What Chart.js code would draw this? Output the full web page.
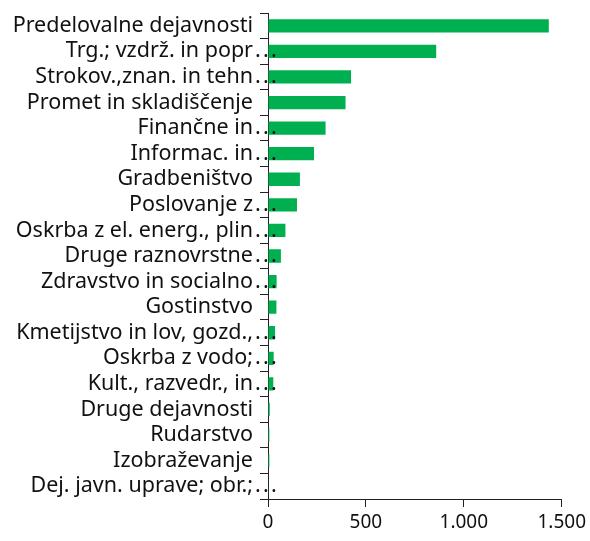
<!DOCTYPE html>
<html>
<head>
<meta charset="utf-8">
<script src="https://cdn.jsdelivr.net/npm/chart.js@4"></script>
<style>
  html, body { margin: 0; padding: 0; background: #fff; }
  #wrap { width: 590px; height: 541px; }
</style>
</head>
<body>
<div id="wrap"><canvas id="chart"></canvas></div>
<script>
const categories = [
  "Predelovalne dejavnosti",
  "Trg.; vzdrž. in popr…",
  "Strokov.,znan. in tehn…",
  "Promet in skladiščenje",
  "Finančne in…",
  "Informac. in…",
  "Gradbeništvo",
  "Poslovanje z…",
  "Oskrba z el. energ., plin…",
  "Druge raznovrstne…",
  "Zdravstvo in socialno…",
  "Gostinstvo",
  "Kmetijstvo in lov, gozd.,…",
  "Oskrba z vodo;…",
  "Kult., razvedr., in…",
  "Druge dejavnosti",
  "Rudarstvo",
  "Izobraževanje",
  "Dej. javn. uprave; obr.;…"
];
const values = [1434, 859, 424, 396, 294, 235, 163, 148, 89, 66, 44, 43, 36, 29, 27, 9, 7, 7, 2];
const tickValues = [0, 500, 1000, 1500];
const tickLabels = ["0", "500", "1.000", "1.500"];

const xFont = { family: "'Noto Sans', sans-serif", size: 19 };
const yFont = { family: "'Noto Sans', sans-serif", size: 21.5 };

// truncated labels: the dots hang past the label edge, over the axis
const ellipsisPlugin = {
  id: 'ellipsis',
  afterDatasetsDraw(chart) {
    const ctx = chart.ctx;
    const y = chart.scales.y;
    ctx.save();
    ctx.font = yFont.size + 'px ' + yFont.family;
    ctx.fillStyle = '#111';
    ctx.textAlign = 'center';
    ctx.textBaseline = 'middle';
    categories.forEach((c, i) => {
      if (!c.endsWith('…')) return;
      const py = y.getPixelForTick(i);
      [-10, -2, 6].forEach(dx => ctx.fillText('.', y.right + dx, py));
    });
    ctx.restore();
  }
};

new Chart(document.getElementById('chart'), {
  type: 'bar',
  data: {
    labels: categories,
    datasets: [{
      data: values,
      backgroundColor: '#00b050',
      barPercentage: 0.52,
      categoryPercentage: 1.0
    }]
  },
  options: {
    indexAxis: 'y',
    responsive: true,
    maintainAspectRatio: false,
    animation: false,
    layout: { padding: { top: 13, right: 28, bottom: 0, left: 0 } },
    plugins: { legend: { display: false }, tooltip: { enabled: false } },
    scales: {
      x: {
        min: 0,
        max: 1500,
        afterBuildTicks: scale => { scale.ticks = tickValues.map(v => ({ value: v })); },
        afterFit: scale => { scale.height = 42; },
        ticks: {
          color: '#111',
          font: xFont,
          padding: 4,
          maxRotation: 0,
          callback: (v) => tickLabels[tickValues.indexOf(v)]
        },
        grid: { drawOnChartArea: false, tickLength: 8, color: '#222' },
        border: { color: '#222', width: 1 }
      },
      y: {
        afterFit: scale => {
          scale.width = 268;
          scale.paddingTop = 0;
          scale.paddingBottom = 0;
        },
        ticks: {
          color: '#111',
          font: yFont,
          padding: 7,
          autoSkip: false,
          callback: (v, i) => categories[i].replace(/…$/, '')
        },
        grid: { drawOnChartArea: false, tickLength: 8, color: '#222', offset: true },
        border: { color: '#222', width: 1 }
      }
    }
  },
  plugins: [ellipsisPlugin]
});
</script>
</body>
</html>
